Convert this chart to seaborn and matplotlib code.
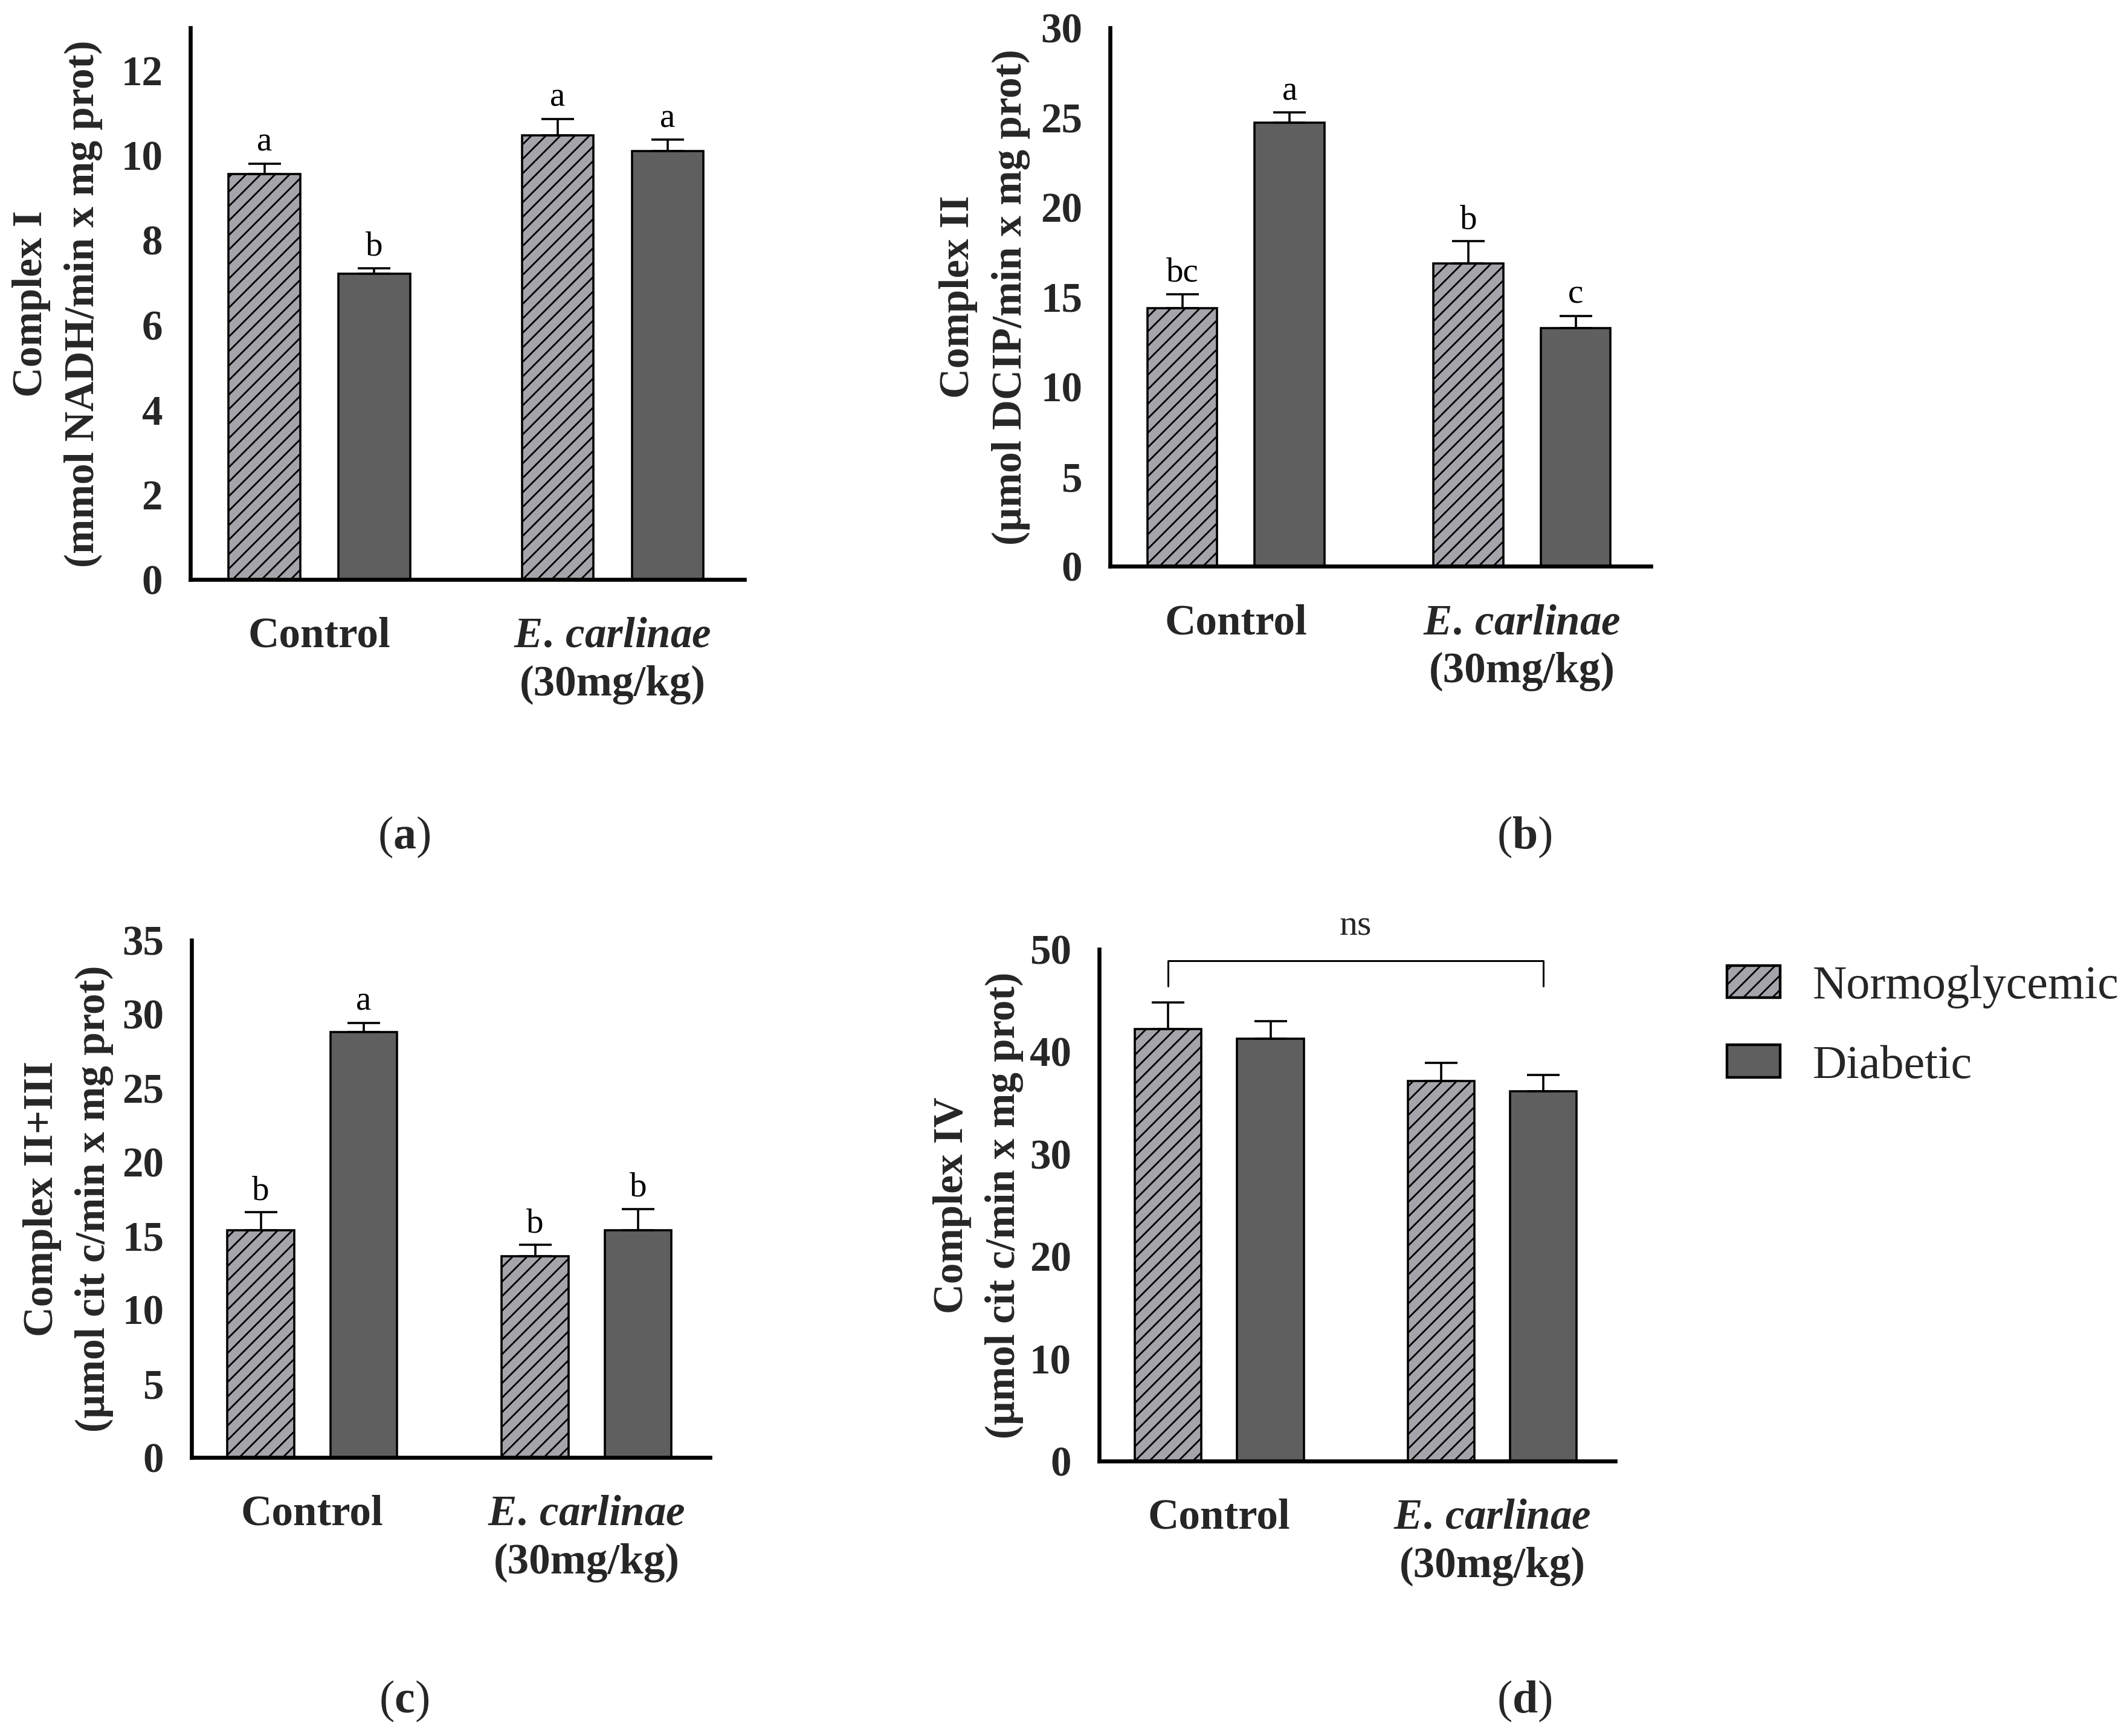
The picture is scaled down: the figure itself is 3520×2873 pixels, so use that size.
import numpy as np
import pandas as pd
import matplotlib
matplotlib.use("Agg")
import matplotlib.pyplot as plt
import matplotlib.patches as mpatches
import seaborn as sns

# ---------------- data ----------------
groups = ["Control", "E. carlinae"]
conditions = ["Normoglycemic", "Diabetic"]
xtick_labels = ["Control", r"$\mathit{E.\,carlinae}$" + "\n(30mg/kg)"]

# order: Control-Normo, Control-Diab, Ec-Normo, Ec-Diab
c1_mean = [9.55, 7.20, 10.46, 10.09]
c1_sem = [0.25, 0.14, 0.39, 0.27]
c1_letters = ["a", "b", "a", "a"]

c2_mean = [14.38, 24.72, 16.87, 13.26]
c2_sem = [0.78, 0.56, 1.24, 0.68]
c2_letters = ["bc", "a", "b", "c"]

c23_mean = [15.36, 28.80, 13.63, 15.36]
c23_sem = [1.23, 0.60, 0.75, 1.45]
c23_letters = ["b", "a", "b", "b"]

c4_mean = [42.19, 41.28, 37.15, 36.10]
c4_sem = [2.63, 1.72, 1.77, 1.64]
c4_letters = ["", "", "", ""]

ylabels = ["Complex I\n(mmol NADH/min x mg prot)",
           "Complex II\n(\u00b5mol DCIP/min x mg prot)",
           "Complex II+III\n(\u00b5mol cit c/min x mg prot)",
           "Complex IV\n(\u00b5mol cit c/min x mg prot)"]
ylims = [13, 30, 35, 50]
ysteps = [2, 5, 5, 10]
panel_tags = ["a", "b", "c", "d"]

# ---------------- style ----------------
sns.set_style("white")
plt.rcParams["font.family"] = ["Liberation Serif", "DejaVu Serif"]
plt.rcParams["mathtext.fontset"] = "custom"
plt.rcParams["mathtext.rm"] = "Liberation Serif:bold"
plt.rcParams["mathtext.it"] = "Liberation Serif:italic:bold"
plt.rcParams["mathtext.bf"] = "Liberation Serif:bold"
plt.rcParams["hatch.linewidth"] = 1.4

W, H, DPI = 3520, 2873, 144
fig = plt.figure(figsize=(W / DPI, H / DPI), dpi=DPI)
fig.patch.set_facecolor("white")

# axes boxes in pixels: left, top, right, bottom
boxes = [(315, 46, 1232, 959), (1837, 46, 2732, 937),
         (317, 1556, 1175, 2412), (1819, 1571, 2673, 2418)]
label_x = [-0.158, -0.148, -0.150, -0.146]
tag_pos = [(669, 1385), (2523, 1385), (669, 2815), (2523, 2815)]

palette = {"Normoglycemic": "#a4a4aa", "Diabetic": "#5f5f5f"}
TICKLEN, XPAD = 19, 12

datasets = [(c1_mean, c1_sem, c1_letters), (c2_mean, c2_sem, c2_letters),
            (c23_mean, c23_sem, c23_letters), (c4_mean, c4_sem, c4_letters)]

for i, (means, sems, letters) in enumerate(datasets):
    l, t, r, b = boxes[i]
    ax = fig.add_axes([l / W, 1 - b / H, (r - l) / W, (b - t) / H])
    df = pd.DataFrame({
        "group": [groups[0], groups[0], groups[1], groups[1]],
        "condition": [conditions[0], conditions[1], conditions[0], conditions[1]],
        "value": means,
    })
    sns.barplot(data=df, x="group", y="value", hue="condition",
                order=groups, hue_order=conditions, palette=palette,
                saturation=1, width=0.75, gap=0.35, errorbar=None,
                edgecolor="black", linewidth=1.8, legend=False, ax=ax)
    for p in ax.containers[0]:
        p.set_hatch("//")
    bars = []
    for gi in range(2):
        for ci in range(2):
            bars.append(ax.containers[ci][gi])
    for p, s, let in zip(bars, sems, letters):
        xc = p.get_x() + p.get_width() / 2
        yt = p.get_height()
        ax.errorbar([xc], [yt], yerr=[[0], [s]], fmt="none", ecolor="black",
                    elinewidth=1.8, capsize=13.5, capthick=1.8, zorder=3)
        if let:
            ax.annotate(let, xy=(xc, yt + s), xytext=(0, 10.5),
                        textcoords="offset points", ha="center", va="baseline",
                        fontsize=28.5, color="black", annotation_clip=False)

    ax.set_xlim(-0.44, 1.45)
    ax.set_ylim(0, ylims[i])
    ax.set_yticks(np.arange(0, ylims[i] + 0.01, ysteps[i]))
    sns.despine(ax=ax)
    for sp in ["left", "bottom"]:
        ax.spines[sp].set_linewidth(3.3)
        ax.spines[sp].set_color("black")
    ax.tick_params(axis="both", direction="out", length=TICKLEN, width=3.0,
                   color="black")
    ax.tick_params(axis="y", pad=4, labelsize=34.5)
    ax.tick_params(axis="x", pad=XPAD, labelsize=35.5)
    for lab in ax.get_yticklabels():
        lab.set_fontweight("bold")
    ax.set_xticks([0, 1])
    ax.set_xticklabels(xtick_labels, fontweight="bold", linespacing=1.3)
    ax.set_xlabel("")
    ax.set_ylabel(ylabels[i], fontsize=34.5, fontweight="bold", linespacing=1.45)
    ax.yaxis.set_label_coords(label_x[i], 0.5)

    if i == 3:
        x0 = bars[0].get_x() + bars[0].get_width() / 2
        x1 = bars[3].get_x() + bars[3].get_width() / 2
        ax.plot([x0, x0, x1, x1], [46.4, 48.86, 48.86, 46.4], color="black",
                lw=1.5, clip_on=False)
        ax.text((x0 + x1) / 2, 51.4, "ns", ha="center", va="baseline",
                fontsize=30, clip_on=False)

    tx, ty = tag_pos[i]
    fig.text(tx / W, 1 - ty / H, "(" + r"$\mathbf{" + panel_tags[i] + "}$" + ")",
             ha="center", va="center", fontsize=38)

# legend
handles = [mpatches.Patch(facecolor=palette["Normoglycemic"], edgecolor="black",
                          hatch="//", linewidth=2.2, label="Normoglycemic"),
           mpatches.Patch(facecolor=palette["Diabetic"], edgecolor="black",
                          linewidth=2.2, label="Diabetic")]
fig.legend(handles=handles, loc="center left",
           bbox_to_anchor=(2858 / W, 1 - 1699 / H), frameon=False,
           fontsize=39, handlelength=1.13, handleheight=0.68,
           handletextpad=0.69, labelspacing=0.77, borderpad=0,
           borderaxespad=0)

fig.savefig("out.png", dpi=DPI, facecolor="white")
